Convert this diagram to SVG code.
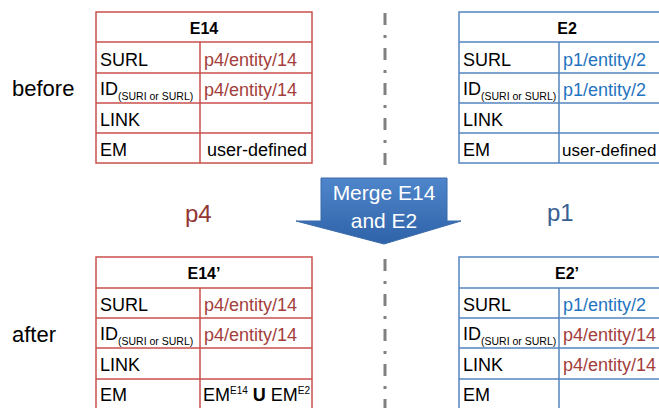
<svg xmlns="http://www.w3.org/2000/svg" width="659" height="408" viewBox="0 0 659 408">
<style>
text{font-family:"Liberation Sans",Arial,sans-serif;}
.red{fill:none;stroke:#C9504F;stroke-width:1.5;}
.blue{fill:none;stroke:#5585C0;stroke-width:1.5;}
.t{font-size:18px;fill:#000;}
.h{font-size:16px;font-weight:bold;fill:#000;text-anchor:middle;}
.sub{font-size:10.5px;}
.sup{font-size:10px;}
.rt{font-size:18px;fill:#A33E3B;}
.bt{font-size:18px;fill:#1F74C0;}
.lbl{font-size:22px;fill:#000;}
.sep{stroke:#808080;stroke-width:3;stroke-dasharray:12 10 3 10;fill:none;}
</style>
<defs>
<linearGradient id="ag" x1="0" y1="0" x2="0" y2="1">
<stop offset="0" stop-color="#4F86CB"/>
<stop offset="1" stop-color="#2F62A8"/>
</linearGradient>
</defs>
<text class="lbl" x="12" y="96">before</text>
<text class="lbl" x="12" y="342">after</text>
<text x="185" y="222" style="font-size:24px;fill:#943634;">p4</text>
<text x="547" y="221" style="font-size:24px;fill:#376092;">p1</text>
<g id="connectors">
<line class="sep" x1="385" y1="13" x2="385" y2="165"/>
<line class="sep" x1="385" y1="259" x2="385" y2="408"/>
</g>
<g id="arrow">
<polygon points="321,178 447,178 447,221 461,221 384,244 296,221 321,221" fill="url(#ag)" stroke="#3A6AAA" stroke-width="1"/>
<text x="384" y="200" text-anchor="middle" style="font-size:21px;fill:#fff;">Merge E14</text>
<text x="384" y="228" text-anchor="middle" style="font-size:21px;fill:#fff;">and E2</text>
</g>
<g id="E14">
<rect class="red" x="96" y="12" width="216" height="151"/>
<path class="red" d="M96 42H312M96 73H312M96 103H312M96 133H312M200 42V163"/>
<text class="h" x="204" y="34">E14</text>
<text class="t" x="100" y="66">SURL</text>
<text class="t" x="100" y="95">ID<tspan class="sub" dy="5">(SURI or SURL)</tspan></text>
<text class="t" x="100" y="126">LINK</text>
<text class="t" x="100" y="156">EM</text>
<text class="rt" x="204" y="66">p4/entity/14</text>
<text class="rt" x="204" y="96">p4/entity/14</text>
<text class="t" x="307" y="156" text-anchor="end">user-defined</text>
</g>
<g id="E2">
<rect class="blue" x="459" y="12" width="216" height="151"/>
<path class="blue" d="M459 42H675M459 73H675M459 103H675M459 133H675M559 42V163"/>
<text class="h" x="567" y="34">E2</text>
<text class="t" x="463" y="66">SURL</text>
<text class="t" x="463" y="95">ID<tspan class="sub" dy="5">(SURI or SURL)</tspan></text>
<text class="t" x="463" y="126">LINK</text>
<text class="t" x="463" y="156">EM</text>
<text class="bt" x="563" y="66">p1/entity/2</text>
<text class="bt" x="563" y="96">p1/entity/2</text>
<text x="562" y="156" style="font-size:17px;fill:#000;">user-defined</text>
</g>
<g id="E14p">
<rect class="red" x="96" y="257" width="216" height="160"/>
<path class="red" d="M96 288H312M96 318H312M96 348H312M96 379H312M200 288V409"/>
<text class="h" x="204" y="279">E14’</text>
<text class="t" x="100" y="311">SURL</text>
<text class="t" x="100" y="340">ID<tspan class="sub" dy="5">(SURI or SURL)</tspan></text>
<text class="t" x="100" y="371">LINK</text>
<text class="t" x="100" y="401">EM</text>
<text class="rt" x="204" y="311">p4/entity/14</text>
<text class="rt" x="204" y="341">p4/entity/14</text>
<text class="t" x="203" y="401">EM<tspan class="sup" dy="-7">E14</tspan><tspan dy="7" font-weight="bold"> U</tspan> EM<tspan class="sup" dy="-7">E2</tspan></text>
</g>
<g id="E2p">
<rect class="blue" x="459" y="257" width="216" height="160"/>
<path class="blue" d="M459 288H675M459 318H675M459 348H675M459 379H675M559 288V409"/>
<text class="h" x="567" y="279">E2’</text>
<text class="t" x="463" y="311">SURL</text>
<text class="t" x="463" y="340">ID<tspan class="sub" dy="5">(SURI or SURL)</tspan></text>
<text class="t" x="463" y="371">LINK</text>
<text class="t" x="463" y="401">EM</text>
<text class="bt" x="563" y="311">p1/entity/2</text>
<text class="rt" x="563" y="341">p4/entity/14</text>
<text class="rt" x="563" y="371">p4/entity/14</text>
</g>
</svg>
